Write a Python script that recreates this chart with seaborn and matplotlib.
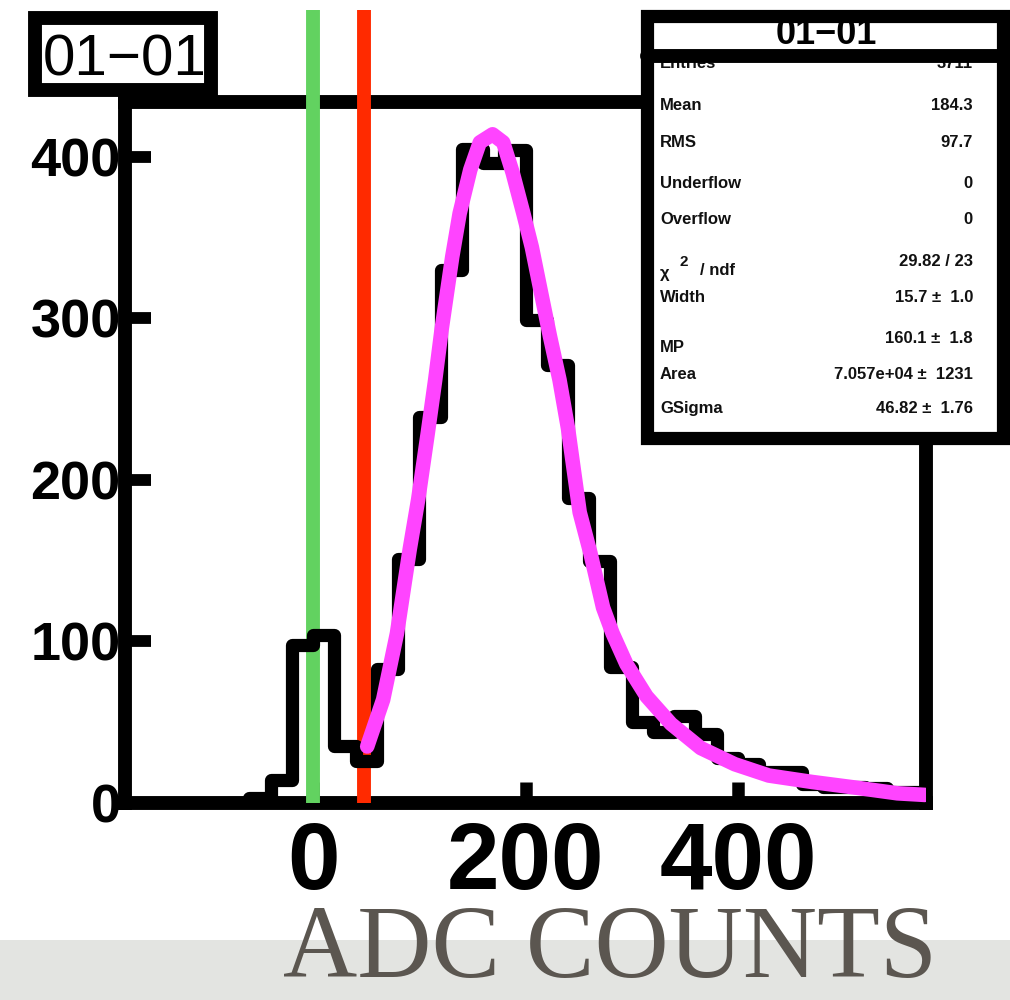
import matplotlib
matplotlib.use("Agg")
import matplotlib.pyplot as plt
import seaborn as sns
from matplotlib.patches import Rectangle
from matplotlib.lines import Line2D

# histogram: ADC counts, 20 wide bins
bin_edges = list(range(-80, 581, 20))
counts = [0, 3, 14, 98, 104, 35, 26, 83, 151, 239, 330, 405, 396, 404, 299,
          271, 189, 150, 84, 50, 44, 54, 43, 28, 24, 19, 19, 12, 10, 10, 9, 7, 7]
bin_centers = [e + 10 for e in bin_edges[:-1]]

# landau x gauss fit
fit_x = [51, 66, 79, 91, 99, 108, 115, 121, 131, 138, 148, 157, 169, 179, 188,
         198, 206, 214, 223, 232, 240, 251, 261, 273, 282, 295, 314, 337, 365,
         397, 429, 470, 511, 550, 576]
fit_y = [35, 64, 105, 157, 188, 229, 262, 293, 338, 365, 392, 409, 414, 409, 390,
         365, 344, 318, 289, 262, 232, 180, 155, 121, 105, 86, 66, 49, 34,
         24, 17, 13, 9.5, 6, 5]

pedestal_cut = 0
threshold_cut = 48

x_ticks = [0, 200, 400]
y_ticks = [0, 100, 200, 300, 400]

hist_name = "01\u221201"
stat_labels = ["Entries", "Mean", "RMS", "Underflow", "Overflow", None,
               "Width", "MP", "Area", "GSigma"]
stat_values = ["3711", "184.3", "97.7", "0", "0", "29.82 / 23",
               "15.7 \u00b1  1.0", "160.1 \u00b1  1.8", "7.057e+04 \u00b1  1231",
               "46.82 \u00b1  1.76"]
# baselines in pixels (label, value)
stat_rows = [(68, 68), (110, 110), (147, 147), (188, 188), (224, 224), (275, 266),
             (302, 302), (352, 343), (379, 379), (413, 413)]

sns.set_style("white")
plt.rcParams['font.family'] = ['Liberation Sans', 'DejaVu Sans']

W, H = 1010, 1000
fig = plt.figure(figsize=(W / 100, H / 100), dpi=100)
fig.patch.set_facecolor("white")


def fx(x):
    return x / W


def fy(y):
    return 1 - y / H


ax = fig.add_axes([fx(125), fy(803), (926 - 125) / W, (803 - 102) / H])
ax.set_facecolor("white")

sns.histplot(x=bin_centers, weights=counts, bins=bin_edges, element="step",
             fill=False, color="black", linewidth=9.5, ax=ax, zorder=4)
sns.lineplot(x=fit_x, y=fit_y, sort=False, estimator=None, color="#FF44FF",
             linewidth=10.5, ax=ax, zorder=5, solid_capstyle="round")

ax.axvline(pedestal_cut, ymin=0, ymax=1.131, color="#62D260", linewidth=10,
           clip_on=False, zorder=3, solid_capstyle="butt")
ax.axvline(threshold_cut, ymin=0, ymax=1.131, color="#FF2A00", linewidth=10,
           clip_on=False, zorder=3, solid_capstyle="butt")

ax.set_xlim(-177, 577)
ax.set_ylim(0, 434)
ax.set_xticks(x_ticks)
ax.set_yticks(y_ticks)
ax.set_xlabel("")
ax.set_ylabel("")
for s in ax.spines.values():
    s.set_linewidth(10)
    s.set_color("black")
ax.tick_params(axis="y", direction="in", length=19, width=8.5, labelsize=39,
               pad=3, left=True, right=False, colors="black")
ax.tick_params(axis="x", direction="in", length=15, width=9, labelsize=68,
               pad=12, bottom=True, top=False, colors="black")
for lab in ax.get_xticklabels() + ax.get_yticklabels():
    lab.set_fontweight("bold")

# title box
fig.add_artist(Rectangle((fx(35), fy(90)), (211 - 35) / W, (90 - 18.5) / H,
                         transform=fig.transFigure, facecolor="white",
                         edgecolor="none", zorder=10))
fig.text(fx(43), fy(75), hist_name, fontsize=42, ha="left", va="baseline",
         color="black", zorder=11)
fig.add_artist(Rectangle((fx(35), fy(90)), (211 - 35) / W, (90 - 18.5) / H,
                         transform=fig.transFigure, facecolor="none",
                         edgecolor="black", linewidth=10, zorder=12))

# stats box
box_l, box_r, box_t, box_b = 647, 1003, 16, 438
fig.add_artist(Rectangle((fx(box_l), fy(box_b)), (box_r - box_l) / W,
                         (box_b - box_t) / H, transform=fig.transFigure,
                         facecolor="white", edgecolor="none", zorder=10))
fig.text(fx(826), fy(44), hist_name, fontsize=26, fontweight="bold",
         ha="center", va="baseline", color="black", zorder=11)
for lab, val, (yl, yv) in zip(stat_labels, stat_values, stat_rows):
    if lab is not None:
        fig.text(fx(660), fy(yl), lab, fontsize=12, fontweight="bold",
                 ha="left", va="baseline", color="#111111", zorder=11)
    fig.text(fx(973), fy(yv), val, fontsize=12, fontweight="bold",
             ha="right", va="baseline", color="#111111", zorder=11)
fig.text(fx(660), fy(278), "\u03c7", fontsize=12, fontweight="bold",
         ha="left", va="baseline", color="#111111", zorder=11)
fig.text(fx(679), fy(266), "2", fontsize=11, fontweight="bold",
         ha="left", va="baseline", color="#111111", zorder=11)
fig.text(fx(700), fy(275), "/ ndf", fontsize=12, fontweight="bold",
         ha="left", va="baseline", color="#111111", zorder=11)
fig.add_artist(Line2D([fx(box_l), fx(box_r)], [fy(56), fy(56)],
                      transform=fig.transFigure, color="black", linewidth=10,
                      zorder=12))
fig.add_artist(Rectangle((fx(box_l), fy(box_b)), (box_r - box_l) / W,
                         (box_b - box_t) / H, transform=fig.transFigure,
                         facecolor="none", edgecolor="black", linewidth=9.5,
                         zorder=12))

# bottom band with axis title
fig.add_artist(Rectangle((0, 0), 1, 60 / H, transform=fig.transFigure,
                         facecolor="#E3E4E1", edgecolor="none", zorder=1))
fig.text(fx(610), 0.001, "ADC COUNTS", fontsize=74,
         family=["Liberation Serif", "DejaVu Serif"], ha="center",
         va="bottom", color="#5B5650", zorder=2)

fig.savefig("out.png", dpi=100)
